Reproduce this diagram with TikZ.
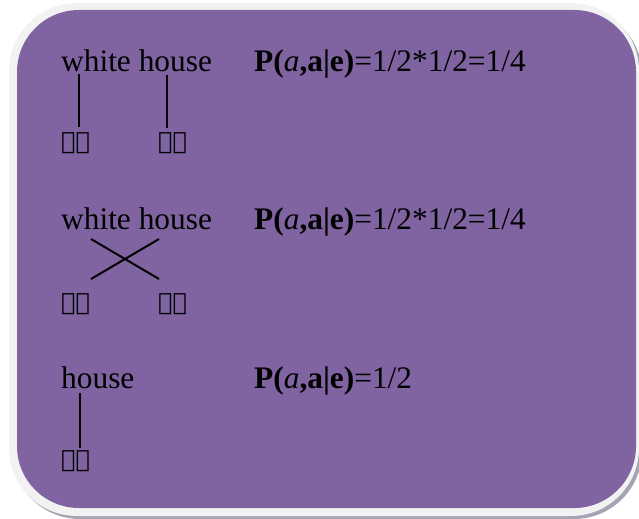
\documentclass[tikz,border=0pt]{standalone}
\usepackage{fontspec}
\setmainfont{Liberation Serif}
\newfontfamily\ethfont{DejaVu Sans}
\definecolor{panelpurple}{HTML}{8064A2}
\definecolor{framegray}{HTML}{F2F2F2}
\definecolor{shadowgray}{HTML}{A6A3B2}
\begin{document}
\begin{tikzpicture}[x=1bp,y=-1bp,
  txt/.style={anchor=base west,inner sep=0pt,font=\fontsize{31.5}{36}\selectfont},
  eth/.style={anchor=base west,inner sep=0pt,font=\ethfont\fontsize{24}{28}\selectfont},
  link/.style={line width=2bp}]
\useasboundingbox (0,0) rectangle (639,519);
% bevelled frame with its shadow
\fill[shadowgray,rounded corners=68bp] (12,7) rectangle (642,519);
\fill[framegray,rounded corners=68bp] (9,3) rectangle (639,516);
\fill[panelpurple,rounded corners=62bp] (17,10) rectangle (636,508);
% first alignment
\node[txt] (e1) at (61,72) {white house};
\node[txt] (p1) at (254,72) {\textbf{P(}\textit{a}\textbf{,a|e)}=1/2*1/2=1/4};
\node[eth] (n1) at (61,150) {ነጭ};
\node[eth] (b1) at (158,150) {ቤት};
\coordinate (w1) at (79,74);  \coordinate (n1t) at (79,127);
\coordinate (h1) at (167,75); \coordinate (b1t) at (167,128);
\draw[link] (w1) -- (n1t);
\draw[link] (h1) -- (b1t);
% second alignment, crossed
\node[txt] (e2) at (61,230) {white house};
\node[txt] (p2) at (254,230) {\textbf{P(}\textit{a}\textbf{,a|e)}=1/2*1/2=1/4};
\node[eth] (n2) at (61,310) {ነጭ};
\node[eth] (b2) at (158,310) {ቤት};
\coordinate (w2) at (91,239);  \coordinate (b2t) at (159,279);
\coordinate (h2) at (159,239); \coordinate (n2t) at (91,279);
\draw[link] (w2) -- (b2t);
\draw[link] (h2) -- (n2t);
% third alignment
\node[txt] (e3) at (61,388) {house};
\node[txt] (p3) at (254,388) {\textbf{P(}\textit{a}\textbf{,a|e)}=1/2};
\node[eth] (b3) at (61,467) {ቤት};
\coordinate (h3) at (80,393); \coordinate (b3t) at (80,448);
\draw[link] (h3) -- (b3t);
\end{tikzpicture}
\end{document}
